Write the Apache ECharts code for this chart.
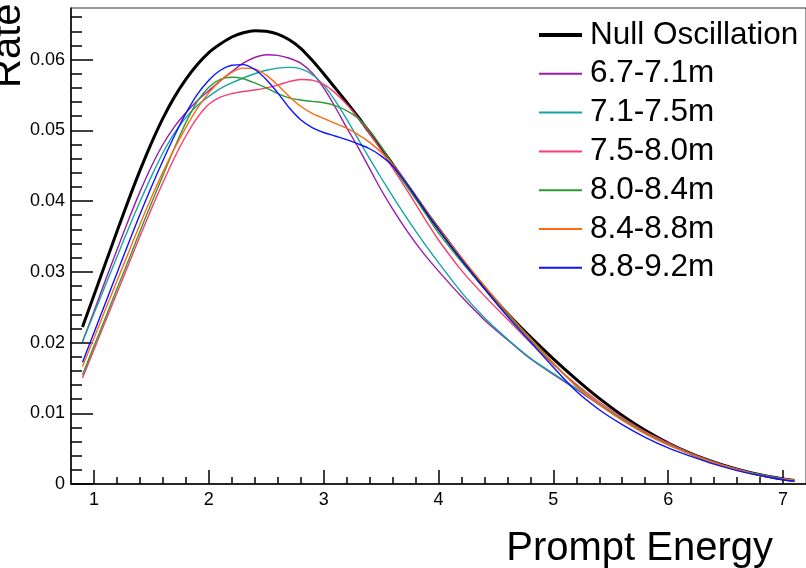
<!DOCTYPE html>
<html>
<head>
<meta charset="utf-8">
<script src="https://cdn.jsdelivr.net/npm/echarts@6/dist/echarts.min.js"></script>
<style>html,body{margin:0;padding:0;background:#fff;}#c{width:806px;height:568px;}</style>
</head>
<body>
<div id="c"></div>
<script>
// ---- data ----
const energy = [0.9,1.0,1.1,1.2,1.3,1.4,1.5,1.6,1.7,1.8,1.9,2.0,2.1,2.2,2.3,2.4,2.5,2.6,2.7,2.8,2.9,3.0,3.1,3.2,3.3,3.4,3.5,3.6,3.7,3.8,3.9,4.0,4.2,4.4,4.6,4.8,5.0,5.2,5.4,5.6,5.8,6.0,6.2,6.4,6.6,6.8,7.0,7.1];
const nullOsc = [0.0222,0.0267,0.0312,0.0357,0.0401,0.0443,0.0482,0.0517,0.0547,0.0572,0.0593,0.0610,0.0622,0.0632,0.0638,0.0641,0.0640,0.0636,0.0628,0.0616,0.0599,0.0580,0.0560,0.0540,0.0519,0.0497,0.0475,0.0452,0.0429,0.0406,0.0383,0.0361,0.0318,0.0278,0.0241,0.0208,0.0177,0.0148,0.0121,0.0097,0.0076,0.0058,0.0043,0.0031,0.0021,0.0013,0.0007,0.0005];
const r67_71 = [0.0201,0.0244,0.0288,0.0331,0.0373,0.0413,0.0449,0.0480,0.0505,0.0525,0.0542,0.0556,0.0570,0.0583,0.0595,0.0603,0.0607,0.0606,0.0602,0.0595,0.0581,0.0560,0.0533,0.0504,0.0476,0.0446,0.0416,0.0389,0.0364,0.0341,0.0320,0.0301,0.0265,0.0232,0.0204,0.0177,0.0155,0.0134,0.0112,0.0091,0.0072,0.0056,0.0042,0.0030,0.0020,0.0013,0.0007,0.0005];
const r71_75 = [0.0201,0.0241,0.0281,0.0321,0.0361,0.0399,0.0435,0.0468,0.0496,0.0518,0.0535,0.0548,0.0559,0.0567,0.0574,0.0580,0.0585,0.0588,0.0589,0.0587,0.0579,0.0564,0.0542,0.0516,0.0488,0.0460,0.0433,0.0407,0.0382,0.0358,0.0335,0.0313,0.0271,0.0235,0.0205,0.0178,0.0156,0.0135,0.0113,0.0092,0.0073,0.0057,0.0043,0.0031,0.0021,0.0013,0.0007,0.0005];
const r75_80 = [0.0150,0.0190,0.0230,0.0270,0.0310,0.0350,0.0389,0.0426,0.0461,0.0492,0.0518,0.0537,0.0547,0.0552,0.0555,0.0557,0.0560,0.0564,0.0569,0.0572,0.0571,0.0565,0.0553,0.0537,0.0518,0.0496,0.0472,0.0447,0.0422,0.0396,0.0370,0.0345,0.0302,0.0266,0.0233,0.0200,0.0169,0.0141,0.0116,0.0094,0.0074,0.0058,0.0043,0.0031,0.0021,0.0013,0.0007,0.0005];
const r80_84 = [0.0154,0.0195,0.0235,0.0276,0.0316,0.0357,0.0397,0.0436,0.0475,0.0511,0.0541,0.0561,0.0572,0.0575,0.0573,0.0567,0.0560,0.0552,0.0546,0.0543,0.0541,0.0539,0.0535,0.0528,0.0517,0.0500,0.0477,0.0452,0.0427,0.0403,0.0379,0.0355,0.0314,0.0276,0.0239,0.0204,0.0170,0.0139,0.0113,0.0091,0.0072,0.0056,0.0042,0.0030,0.0020,0.0013,0.0007,0.0005];
const r84_88 = [0.0166,0.0206,0.0247,0.0287,0.0327,0.0367,0.0405,0.0441,0.0474,0.0504,0.0531,0.0553,0.0570,0.0582,0.0588,0.0587,0.0578,0.0564,0.0548,0.0534,0.0524,0.0517,0.0510,0.0503,0.0494,0.0483,0.0469,0.0452,0.0431,0.0408,0.0385,0.0362,0.0320,0.0280,0.0242,0.0206,0.0171,0.0138,0.0112,0.0090,0.0071,0.0055,0.0042,0.0030,0.0020,0.0012,0.0007,0.0005];
const r88_92 = [0.0172,0.0214,0.0256,0.0298,0.0340,0.0381,0.0420,0.0457,0.0492,0.0524,0.0551,0.0571,0.0585,0.0592,0.0593,0.0586,0.0572,0.0553,0.0532,0.0515,0.0504,0.0497,0.0492,0.0487,0.0481,0.0474,0.0464,0.0450,0.0430,0.0407,0.0383,0.0360,0.0317,0.0276,0.0237,0.0201,0.0165,0.0131,0.0105,0.0084,0.0066,0.0051,0.0039,0.0028,0.0019,0.0012,0.0006,0.0004];
const seriesNames = ['Null Oscillation','6.7-7.1m','7.1-7.5m','7.5-8.0m','8.0-8.4m','8.4-8.8m','8.8-9.2m'];
const xTickValues = [1,2,3,4,5,6,7];
const xTickLabels = ['1','2','3','4','5','6','7'];
const yTickValues = [0,0.01,0.02,0.03,0.04,0.05,0.06];
const yTickLabels = ['0','0.01','0.02','0.03','0.04','0.05','0.06'];
const xTitle = 'Prompt Energy';
const yTitle = 'Rate';

// ---- styles ----
const colors = ['#000000','#9c1aa8','#14a5a5','#ff3a6e','#2f9a35','#ff6a10','#0a14ff'];
const widths = [3,1.4,1.4,1.4,1.4,1.4,1.4];
const FONT = 'Liberation Sans, Arial, Helvetica, sans-serif';
// legend line icons: tiny corner marks fix the 43x14 box, the bar is the visible line
const iconThick = 'path://M0,0L0.01,0L0,0.01Z M43,14L42.99,14L43,13.99Z M0,5L43,5L43,9L0,9Z';
const iconThin  = 'path://M0,0L0.01,0L0,0.01Z M43,14L42.99,14L43,13.99Z M0,6L43,6L43,8L0,8Z';

const allData = [nullOsc, r67_71, r71_75, r75_80, r80_84, r84_88, r88_92];

function minorList(min, max, step, majors){
  const out=[];
  const n=Math.round((max-min)/step);
  for(let i=0;i<=n;i++){
    const v=+(min+i*step).toFixed(6);
    if(majors.some(m=>Math.abs(m-v)<1e-9)) continue;
    out.push(v);
  }
  return out;
}
const xMinor = minorList(1.2, 6.8, 0.2, xTickValues);
const yMinor = minorList(0.002, 0.066, 0.002, yTickValues);

const XMIN=0.8, XMAX=7.2, YMIN=0, YMAX=0.0673;

const chart = echarts.init(document.getElementById('c'), null, {renderer:'canvas'});
chart.setOption({
  animation:false,
  backgroundColor:'#fff',
  grid:{left:71, top:8, width:737, height:476, show:true, borderColor:'#333', borderWidth:1, backgroundColor:'transparent'},
  legend:{
    orient:'vertical', left:539, top:19, padding:0, itemWidth:43, itemHeight:14, itemGap:6.8,
    data:seriesNames.map((n,i)=>({name:n, icon: i===0 ? iconThick : iconThin, itemStyle:{color:colors[i]}})),
    textStyle:{fontFamily:FONT, fontSize:31.5, color:'#000', lineHeight:32, padding:[0,0,0,3]}
  },
  xAxis:[
    {type:'value', min:XMIN, max:XMAX, position:'bottom',
     axisLine:{show:true, lineStyle:{color:'#000', width:1.5}},
     axisTick:{show:true, inside:true, length:14, customValues:xTickValues, lineStyle:{color:'#000', width:1.5}},
     axisLabel:{show:true, customValues:xTickValues, margin:7, fontFamily:FONT, fontSize:18, color:'#000',
       formatter:v=>xTickLabels[xTickValues.findIndex(t=>Math.abs(t-v)<1e-9)]},
     splitLine:{show:false}},
    {type:'value', min:XMIN, max:XMAX, position:'bottom', gridIndex:0,
     axisLine:{show:false},
     axisTick:{show:true, inside:true, length:7, customValues:xMinor, lineStyle:{color:'#000', width:1.5}},
     axisLabel:{show:false}, splitLine:{show:false}}
  ],
  yAxis:[
    {type:'value', min:YMIN, max:YMAX, position:'left',
     axisLine:{show:true, lineStyle:{color:'#000', width:1.5}},
     axisTick:{show:true, inside:true, length:22, customValues:yTickValues, lineStyle:{color:'#000', width:1.5}},
     axisLabel:{show:true, customValues:yTickValues, margin:6, fontFamily:FONT, fontSize:18, color:'#000',
       formatter:v=>yTickLabels[yTickValues.findIndex(t=>Math.abs(t-v)<1e-9)]},
     splitLine:{show:false}},
    {type:'value', min:YMIN, max:YMAX, position:'left', gridIndex:0,
     axisLine:{show:false},
     axisTick:{show:true, inside:true, length:11, customValues:yMinor, lineStyle:{color:'#000', width:1.5}},
     axisLabel:{show:false}, splitLine:{show:false}}
  ],
  graphic:[
    {type:'text', right:33, top:529, style:{text:xTitle, fontFamily:FONT, fontSize:40, fill:'#000'}},
    {type:'text', x:29, y:88, rotation:Math.PI/2, style:{text:yTitle, fontFamily:FONT, fontSize:40, fill:'#000', align:'left', verticalAlign:'bottom'}}
  ],
  series: allData.map((d,i)=>({
    name:seriesNames[i], type:'line', xAxisIndex:0, yAxisIndex:0,
    data: energy.map((e,j)=>[e,d[j]]),
    smooth:0.3, symbol:'none', showSymbol:false,
    color:colors[i],
    lineStyle:{color:colors[i], width:widths[i]},
    itemStyle:{color:colors[i]},
    z: 2+i
  }))
});
</script>
</body>
</html>
